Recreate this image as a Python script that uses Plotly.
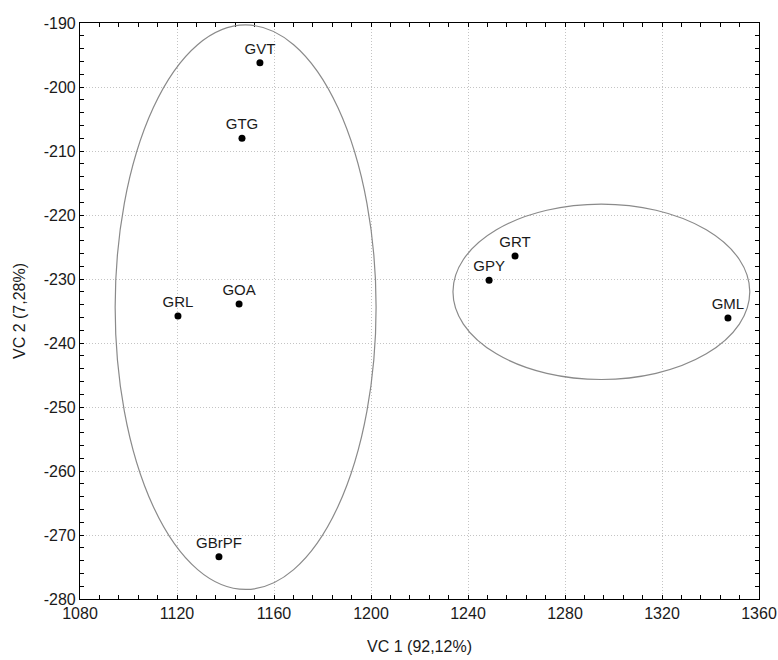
import plotly.graph_objects as go

# Sample scores on the first two canonical variates
labels = ["GVT", "GTG", "GRL", "GOA", "GBrPF", "GRT", "GPY", "GML"]
vc1 = [1154.2, 1146.8, 1120.4, 1145.6, 1137.3, 1259.4, 1248.7, 1347.2]
vc2 = [-196.2, -208.0, -235.8, -233.9, -273.4, -226.4, -230.2, -236.1]

# Group outlines: centre (vc1, vc2) and half-widths along each axis
group_cx = [1148.3, 1295.0]
group_cy = [-234.4, -232.0]
group_rx = [53.8, 61.2]
group_ry = [44.1, 13.7]

# Axis ticks
x_ticks = [1080, 1120, 1160, 1200, 1240, 1280, 1320, 1360]
y_ticks = [-190, -200, -210, -220, -230, -240, -250, -260, -270, -280]

FONT = "Liberation Sans, Arial, sans-serif"

fig = go.Figure()

fig.add_trace(go.Scatter(
    x=vc1, y=vc2, text=labels,
    mode="markers+text",
    textposition="top center",
    textfont=dict(family=FONT, size=15, color="#1a1a1a"),
    marker=dict(color="black", size=7),
    showlegend=False,
    cliponaxis=False,
))

for cx, cy, rx, ry in zip(group_cx, group_cy, group_rx, group_ry):
    fig.add_shape(
        type="circle", xref="x", yref="y",
        x0=cx - rx, x1=cx + rx, y0=cy - ry, y1=cy + ry,
        line=dict(color="#8a8a8a", width=1.2),
        layer="above",
    )

axis_common = dict(
    showline=True, linecolor="black", linewidth=1.2,
    mirror="ticks", ticks="inside", ticklen=4, tickcolor="black",
    showgrid=True, gridcolor="#c4c4c4", griddash="1px,2px", gridwidth=1,
    zeroline=False, automargin=False,
    tickfont=dict(family=FONT, size=16, color="#1a1a1a"),
    title_font=dict(family=FONT, size=16, color="#1a1a1a"),
)

fig.update_xaxes(
    range=[1080, 1360], tickvals=x_ticks,
    ticktext=[str(v) for v in x_ticks],
    minor=dict(dtick=8, tick0=1080, ticks="inside", ticklen=4, tickcolor="black", showgrid=False),
    title=dict(text="VC 1 (92,12%)", standoff=19),
    **axis_common,
)
fig.update_yaxes(
    range=[-280, -190], tickvals=y_ticks,
    ticktext=[str(v) for v in y_ticks],
    minor=dict(dtick=2, tick0=-280, ticks="inside", ticklen=4, tickcolor="black", showgrid=False),
    title=dict(text="VC 2 (7,28%)", standoff=14),
    **axis_common,
)

fig.update_layout(
    width=778, height=660,
    margin=dict(l=80, r=19, t=23, b=61),
    plot_bgcolor="white", paper_bgcolor="white",
    font=dict(family=FONT),
)

fig.write_html("out.html")
